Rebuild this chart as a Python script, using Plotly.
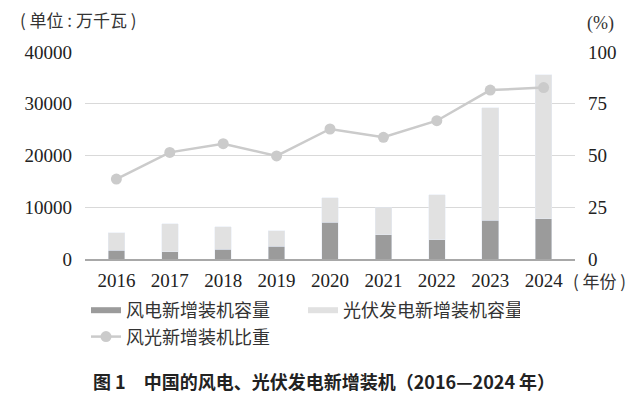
import plotly.graph_objects as go

years = ["2016", "2017", "2018", "2019", "2020", "2021", "2022", "2023", "2024"]
wind = [1700, 1420, 1880, 2450, 7100, 4650, 3680, 7480, 7800]
solar = [3330, 5350, 4360, 3030, 4700, 5270, 8690, 21700, 27800]
share = [38.6, 51.5, 55.7, 49.8, 62.8, 58.8, 66.8, 81.6, 82.8]

y_ticks = [0, 10000, 20000, 30000, 40000]
y2_ticks = [0, 25, 50, 75, 100]

NUM_FONT = "Liberation Serif, Noto Sans CJK SC"
CJK_FONT = "Noto Sans CJK SC"
DARK = "#9b9b9b"
LIGHT = "#e1e1e1"
LINEC = "#cbcbcb"

OFF = 8  # page body margin
W, H = 643 - OFF, 395 - OFF
PL, PR, PT, PB = 85, 575, 52, 259  # plot area in window pixels
L, R, T, B = PL - OFF, 643 - PR, PT - OFF, 395 - PB
PW, PH = PR - PL, PB - PT


def px_x(x):
    return (x - PL) / PW


def px_y(y):
    return (PB - y) / PH


fig = go.Figure()
fig.add_trace(go.Bar(x=years, y=wind, marker_color=DARK, showlegend=False, name="风电新增装机容量"))
fig.add_trace(go.Bar(x=years, y=solar, marker_color=LIGHT, showlegend=False, name="光伏发电新增装机容量"))
fig.add_trace(go.Scatter(x=years, y=share, yaxis="y2", mode="lines+markers",
                         line=dict(color=LINEC, width=2.5),
                         marker=dict(color=LINEC, size=11),
                         name="风光新增装机比重", showlegend=False))
# legend proxies
fig.add_trace(go.Scatter(x=[None], y=[None], mode="lines", line=dict(color=DARK, width=6),
                         name="风电新增装机容量"))
fig.add_trace(go.Scatter(x=[None], y=[None], mode="lines", line=dict(color=LIGHT, width=6),
                         name="光伏发电新增装机容量"))
fig.add_trace(go.Scatter(x=[None], y=[None], mode="lines+markers",
                         line=dict(color=LINEC, width=2.5), marker=dict(color=LINEC, size=11),
                         name="风光新增装机比重"))

fig.update_layout(
    width=W, height=H,
    margin=dict(l=L, r=R, t=T, b=B, autoexpand=False),
    paper_bgcolor="white", plot_bgcolor="white",
    barmode="stack", bargap=0.69,
    font=dict(family=NUM_FONT, size=18, color="#222222"),
    xaxis=dict(type="category", showgrid=False, ticks="", ticklabelstandoff=3,
               showline=True, linecolor="#a8a8a8", linewidth=1.5,
               tickfont=dict(family=NUM_FONT, size=19)),
    yaxis=dict(range=[0, 40000], tickvals=y_ticks, ticktext=[str(v) for v in y_ticks],
               showgrid=True, gridcolor="#d9d9d9", gridwidth=1.2, zeroline=False,
               ticks="", ticklabelstandoff=12, tickfont=dict(family=NUM_FONT, size=19)),
    yaxis2=dict(range=[0, 100], tickvals=y2_ticks, ticktext=[str(v) for v in y2_ticks],
                overlaying="y", side="right", showgrid=False, zeroline=False,
                ticks="", ticklabelstandoff=12, tickfont=dict(family=NUM_FONT, size=19)),
    legend=dict(orientation="h", xref="container", yref="container",
                x=(86 - OFF) / W, y=1 - (292 - OFF) / H, xanchor="left", yanchor="top",
                traceorder="normal",
                entrywidth=172, entrywidthmode="pixels",
                font=dict(family=CJK_FONT, size=18, color="#333333"),
                tracegroupgap=0, itemwidth=30),
    annotations=[
        dict(text="( 单位 : 万千瓦 )", xref="paper", yref="paper", x=px_x(18), y=px_y(20),
             xanchor="left", yanchor="middle", showarrow=False,
             font=dict(family=CJK_FONT, size=17, color="#333333")),
        dict(text="(%)", xref="paper", yref="paper", x=px_x(585), y=px_y(23),
             xanchor="left", yanchor="middle", showarrow=False,
             font=dict(family=NUM_FONT, size=18, color="#333333")),
        dict(text="( 年份 )", xref="paper", yref="paper", x=px_x(571), y=px_y(280),
             xanchor="left", yanchor="middle", showarrow=False,
             font=dict(family=CJK_FONT, size=17, color="#333333")),
        dict(text="<b>图 1　中国的风电、光伏发电新增装机（2016—2024 年）</b>",
             xref="paper", yref="paper", x=px_x(324), y=px_y(381),
             xanchor="center", yanchor="middle", showarrow=False,
             font=dict(family=CJK_FONT, size=18, color="#222222")),
    ],
)

fig.write_html("out.html")
